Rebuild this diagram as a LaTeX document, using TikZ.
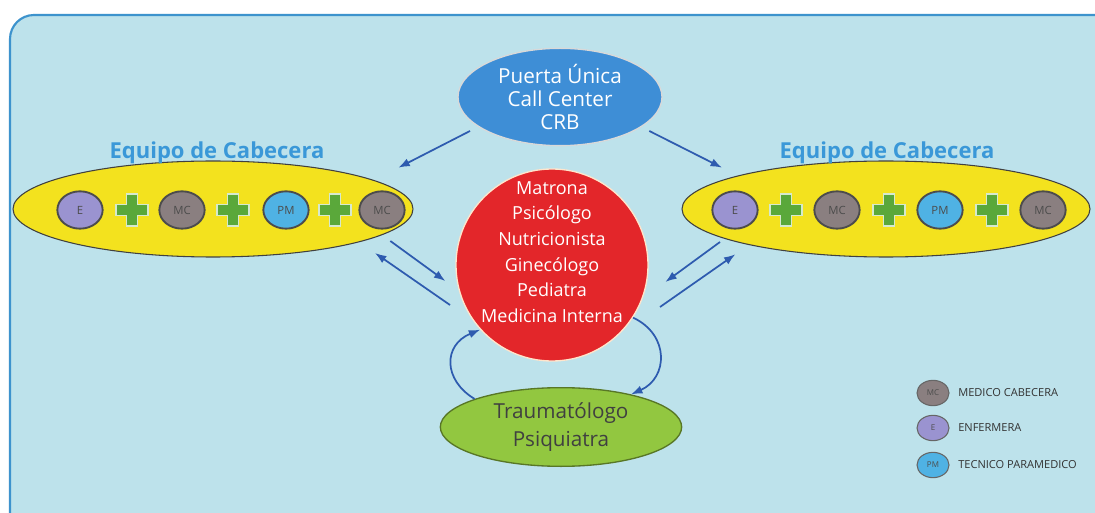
\documentclass[tikz,border=0pt]{standalone}
\usepackage{fontspec}
\setmainfont{Open Sans}
\usepackage{tikz}
\usetikzlibrary{arrows.meta,positioning,shapes.geometric}
\definecolor{sky}{HTML}{BDE2EB}
\definecolor{rim}{HTML}{3D93CD}
\definecolor{door}{HTML}{3E8ED6}
\definecolor{hub}{HTML}{E3262A}
\definecolor{leaf}{HTML}{92C740}
\definecolor{sun}{HTML}{F3E21E}
\definecolor{nurse}{HTML}{9A93D0}
\definecolor{doc}{HTML}{8A7F80}
\definecolor{para}{HTML}{4FB2E4}
\definecolor{cross}{HTML}{5AA83A}
\definecolor{head}{HTML}{3A98D8}
\definecolor{ink}{HTML}{2E5BAF}
\newcommand{\greencross}[1]{%
\fill[cross,draw=white!75!cross,line width=1.2pt,shift={#1}]
(-5.5,-16)--(5.5,-16)--(5.5,-5.5)--(16,-5.5)--(16,5.5)--(5.5,5.5)--(5.5,16)--(-5.5,16)--(-5.5,5.5)--(-16,5.5)--(-16,-5.5)--(-5.5,-5.5)--cycle;}
\tikzset{oval/.style={ellipse,draw=white!85!black,line width=1pt,align=center,inner sep=0pt},
team/.style={ellipse,fill=sun,draw=black!75,line width=.8pt,minimum width=300pt,minimum height=72pt},
member/.style={ellipse,draw=black!70,line width=1.4pt,minimum width=34pt,minimum height=28pt,inner sep=0pt,font=\fontsize{8.5}{9}\selectfont,text=black!70},
key/.style={ellipse,draw=black!60,line width=.8pt,minimum width=24pt,minimum height=19pt,inner sep=0pt,font=\fontsize{6}{6}\selectfont,text=black!70},
keytext/.style={anchor=west,font=\fontsize{8.3}{9}\selectfont,text=black!80},
title/.style={font=\fontsize{16.5}{18}\selectfont\bfseries,text=head},
arr/.style={-{Latex[length=3mm,width=2.2mm]},line width=1.3pt,draw=ink}}

\begin{document}
\begin{tikzpicture}[x=0.75pt,y=-0.75pt]
\useasboundingbox (0,0) rectangle (1095,513);
\fill[white] (0,0) rectangle (1095,513);
\clip (0,0) rectangle (1095,513);
\draw[rim,fill=sky,line width=1.6pt,rounded corners=18pt] (10,15) rectangle (1120,560);
% centre
\node[oval,fill=door,text=white,minimum width=153pt,minimum height=73pt,font=\fontsize{15.5}{17.5}\selectfont] (door) at (560,97) {Puerta Única\\Call Center\\CRB};
\node[oval,circle,fill=hub,draw=white!80!orange,minimum size=144pt] (hub) at (552,265) {};
\node[align=center,text=white,font=\fontsize{13.5}{19.2}\selectfont] (staff) at (552,252) {Matrona\\Psicólogo\\Nutricionista\\Ginecólogo\\Pediatra\\Medicina Interna};
\node[oval,fill=leaf,draw=leaf!60!black,text=black!75,minimum width=181pt,minimum height=59pt,font=\fontsize{15.5}{21}\selectfont] (spec) at (561,427) {Traumatólogo\\Psiquiatra};
% teams
\node[team] (lt) at (213,209) {};
\node[title] at (217,153) {Equipo de Cabecera};
\node[member,fill=nurse] (l1) at (80,210) {E};
\node[member,fill=doc] (l2) at (182,210) {MC};
\node[member,fill=para] (l3) at (286,210) {PM};
\node[member,fill=doc] (l4) at (382,210) {MC};
\greencross{(132,210)}
\greencross{(233,210)}
\greencross{(335,210)}
\node[team,minimum width=306pt] (rt) at (886,209) {};
\node[title] at (887,153) {Equipo de Cabecera};
\node[member,fill=nurse] (r1) at (735,210) {E};
\node[member,fill=doc] (r2) at (837,210) {MC};
\node[member,fill=para] (r3) at (940,210) {PM};
\node[member,fill=doc] (r4) at (1043,210) {MC};
\greencross{(786,210)}
\greencross{(889,210)}
\greencross{(992,210)}
% links
\draw[arr] ([xshift=-67.5pt,yshift=-25.5pt]door.center) -- ([xshift=139pt,yshift=31pt]lt.center);
\draw[arr] ([xshift=67pt,yshift=-25.5pt]door.center) -- ([xshift=-123pt,yshift=31pt]rt.center);
\draw[arr] ([xshift=133pt,yshift=-24pt]lt.center) -- ([xshift=-80pt,yshift=-12pt]hub.center);
\draw[arr] ([xshift=-76.5pt,yshift=-30pt]hub.center) -- ([xshift=121.5pt,yshift=-33pt]lt.center);
\draw[arr] ([xshift=-124.5pt,yshift=-24.75pt]rt.center) -- ([xshift=85pt,yshift=-12.75pt]hub.center);
\draw[arr] ([xshift=81pt,yshift=-31.5pt]hub.center) -- ([xshift=-113pt,yshift=-34pt]rt.center);
\draw[arr] (spec.162) .. controls (443,380) and (443,345) .. (hub.222);
\draw[arr] (hub.-33) .. controls (670,335) and (668,378) .. (spec.25);
% legend
\node[key,fill=doc] (k1) at (933,393) {MC};
\node[key,fill=nurse] (k2) at (933,428) {E};
\node[key,fill=para] (k3) at (933,465) {PM};
\node[keytext,right=3pt of k1] {MEDICO CABECERA};
\node[keytext,right=3pt of k2] {ENFERMERA};
\node[keytext,right=3pt of k3] {TECNICO PARAMEDICO};
\end{tikzpicture}
\end{document}
